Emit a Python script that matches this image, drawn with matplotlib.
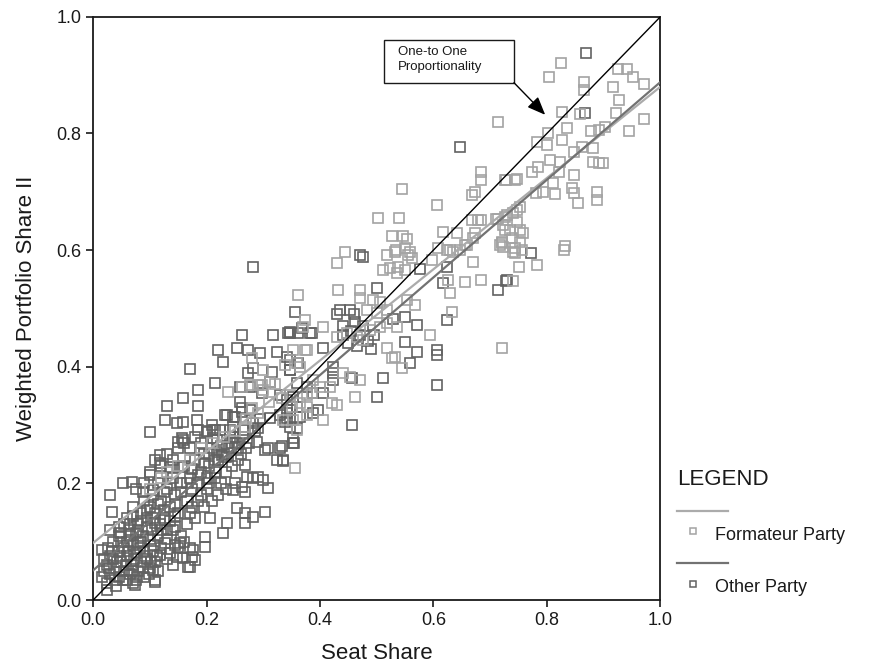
import matplotlib
matplotlib.use('Agg')
import matplotlib.pyplot as plt
from matplotlib.lines import Line2D
from matplotlib.patches import Rectangle
import numpy as np

plt.rcParams['font.family'] = ['Liberation Sans', 'DejaVu Sans']

# formateur party (light squares)
form_x = [0.825, 0.804, 0.926, 0.942, 0.952, 0.972, 0.917, 0.866, 0.866, 0.928,
          0.972, 0.945, 0.921, 0.859, 0.827, 0.714, 0.836, 0.802, 0.783, 0.801,
          0.827, 0.877, 0.891, 0.903, 0.862, 0.882, 0.882, 0.891, 0.899, 0.847,
          0.806, 0.824, 0.774, 0.785, 0.822, 0.727, 0.748, 0.847, 0.810, 0.794,
          0.780, 0.815, 0.845, 0.847, 0.889, 0.889, 0.855, 0.753, 0.741, 0.727,
          0.713, 0.683, 0.748, 0.727, 0.735, 0.753, 0.758, 0.721, 0.723, 0.753,
          0.741, 0.757, 0.832, 0.743, 0.750, 0.783, 0.741, 0.721, 0.831,
          0.684, 0.684, 0.728, 0.744, 0.545, 0.674, 0.668, 0.607, 0.503, 0.540,
          0.668, 0.679, 0.711, 0.527, 0.547, 0.554, 0.616, 0.642, 0.674, 0.670,
          0.730, 0.748, 0.723, 0.534, 0.550, 0.559, 0.519, 0.608, 0.630, 0.647,
          0.660, 0.721, 0.739, 0.744,
          0.444, 0.533, 0.556, 0.563, 0.430, 0.511, 0.524, 0.538, 0.550, 0.536,
          0.598, 0.624, 0.635, 0.656, 0.670, 0.683, 0.656, 0.626, 0.630, 0.718,
          0.633, 0.594, 0.568, 0.554, 0.471, 0.432, 0.362, 0.471, 0.494, 0.506,
          0.483, 0.501, 0.519, 0.374, 0.370, 0.406, 0.430, 0.448, 0.466, 0.476,
          0.489, 0.506, 0.519, 0.536, 0.519, 0.533, 0.527, 0.545, 0.353, 0.377,
          0.360, 0.365, 0.441, 0.453, 0.471, 0.388, 0.400, 0.418, 0.377, 0.386,
          0.351, 0.365, 0.377, 0.422, 0.430, 0.335, 0.353, 0.377, 0.406, 0.360,
          0.356, 0.462,
          0.280, 0.374, 0.300, 0.238, 0.298, 0.339, 0.268, 0.333, 0.347, 0.263,
          0.277, 0.312, 0.291,
          0.120, 0.150, 0.170, 0.190, 0.210, 0.230, 0.250, 0.270, 0.290, 0.310,
          0.100, 0.130, 0.280, 0.300, 0.320]
form_y = [0.921, 0.897, 0.911, 0.911, 0.897, 0.885, 0.880, 0.888, 0.875, 0.858,
          0.825, 0.804, 0.835, 0.834, 0.837, 0.820, 0.810, 0.801, 0.786, 0.780,
          0.789, 0.804, 0.806, 0.811, 0.777, 0.775, 0.751, 0.750, 0.750, 0.768,
          0.755, 0.751, 0.734, 0.743, 0.734, 0.720, 0.722, 0.729, 0.715, 0.700,
          0.698, 0.696, 0.707, 0.698, 0.700, 0.686, 0.681, 0.674, 0.664, 0.657,
          0.654, 0.652, 0.648, 0.635, 0.635, 0.635, 0.629, 0.614, 0.605, 0.614,
          0.597, 0.600, 0.607, 0.595, 0.571, 0.575, 0.547, 0.432, 0.600,
          0.734, 0.720, 0.720, 0.720, 0.705, 0.700, 0.695, 0.678, 0.655, 0.655,
          0.652, 0.652, 0.654, 0.624, 0.624, 0.619, 0.631, 0.629, 0.629, 0.621,
          0.660, 0.669, 0.643, 0.600, 0.604, 0.597, 0.592, 0.604, 0.600, 0.600,
          0.609, 0.612, 0.621, 0.604,
          0.597, 0.597, 0.592, 0.587, 0.578, 0.566, 0.569, 0.571, 0.566, 0.561,
          0.583, 0.600, 0.597, 0.609, 0.580, 0.549, 0.545, 0.549, 0.527, 0.609,
          0.494, 0.455, 0.506, 0.515, 0.532, 0.532, 0.523, 0.518, 0.515, 0.511,
          0.497, 0.492, 0.497, 0.480, 0.468, 0.468, 0.451, 0.458, 0.451, 0.446,
          0.463, 0.468, 0.475, 0.468, 0.432, 0.417, 0.415, 0.398, 0.429, 0.429,
          0.407, 0.400, 0.389, 0.383, 0.377, 0.377, 0.365, 0.365, 0.352, 0.355,
          0.331, 0.338, 0.331, 0.338, 0.334, 0.309, 0.309, 0.317, 0.309, 0.292,
          0.226, 0.348,
          0.415, 0.429, 0.395, 0.357, 0.369, 0.403, 0.297, 0.346, 0.352, 0.365,
          0.369, 0.374, 0.369,
          0.210, 0.230, 0.240, 0.260, 0.270, 0.280, 0.290, 0.310, 0.320, 0.340,
          0.190, 0.220, 0.330, 0.360, 0.370]

# other party (dark squares)
other_x = [0.869, 0.868, 0.647, 0.772, 0.728, 0.713, 0.730, 0.616, 0.624, 0.577,
           0.476, 0.471, 0.282, 0.624, 0.571, 0.550, 0.529, 0.501, 0.436, 0.453,
           0.356, 0.386, 0.347, 0.462, 0.550, 0.571, 0.607, 0.607, 0.559, 0.511,
           0.607, 0.501, 0.457, 0.457, 0.342, 0.406, 0.423, 0.423, 0.423, 0.406,
           0.397, 0.353, 0.333, 0.354, 0.335,
           0.440, 0.455, 0.470, 0.485, 0.450, 0.465, 0.490, 0.440, 0.475, 0.495,
           0.430, 0.460,
           0.344, 0.369, 0.383, 0.347, 0.360, 0.377, 0.388, 0.353, 0.342, 0.365,
           0.388, 0.339, 0.347,
           0.263, 0.317, 0.347, 0.362, 0.220, 0.254, 0.273, 0.295, 0.325, 0.347,
           0.362, 0.171, 0.229, 0.282, 0.273, 0.316, 0.347, 0.312, 0.215, 0.259,
           0.277, 0.298, 0.159, 0.185, 0.185, 0.259, 0.263, 0.277, 0.330, 0.342,
           0.347, 0.360, 0.233, 0.247, 0.295, 0.312, 0.330, 0.342, 0.159, 0.183,
           0.360, 0.185, 0.201, 0.212, 0.247, 0.265, 0.219, 0.242, 0.254, 0.159,
           0.330, 0.353, 0.309,
           0.131, 0.263, 0.236, 0.250, 0.127, 0.148, 0.101, 0.215, 0.224, 0.212,
           0.150, 0.157, 0.242, 0.282, 0.291, 0.247, 0.289, 0.303, 0.335, 0.325,
           0.118, 0.118, 0.219, 0.228, 0.268, 0.136, 0.157, 0.053, 0.069, 0.101,
           0.030, 0.034, 0.088, 0.106, 0.263, 0.272, 0.282, 0.291, 0.300, 0.309,
           0.247, 0.268, 0.254, 0.268, 0.282, 0.303, 0.236, 0.229, 0.268, 0.198,
           0.016, 0.030, 0.153, 0.171, 0.118, 0.136, 0.148, 0.175, 0.171, 0.109,
           0.071, 0.025,
           0.206, 0.198, 0.176, 0.180, 0.159, 0.168, 0.106, 0.109, 0.074, 0.127,
           0.145, 0.109, 0.026,
           0.020, 0.025, 0.030, 0.035, 0.040, 0.045, 0.050, 0.055, 0.060, 0.065,
           0.070, 0.075, 0.080, 0.085, 0.090, 0.095, 0.100, 0.105, 0.110, 0.115,
           0.030, 0.045, 0.060, 0.075, 0.120, 0.130, 0.140, 0.025, 0.040, 0.055,
           0.070, 0.085, 0.100, 0.115, 0.130, 0.090, 0.065, 0.050, 0.080, 0.095,
           0.060, 0.070, 0.080, 0.085, 0.090, 0.095, 0.100, 0.105, 0.110, 0.115,
           0.120, 0.125, 0.130, 0.135, 0.140, 0.145, 0.150, 0.155, 0.160, 0.165,
           0.170, 0.175, 0.180, 0.185, 0.190, 0.195, 0.200, 0.205, 0.210, 0.215,
           0.220, 0.225, 0.230, 0.235, 0.240, 0.245, 0.250, 0.255, 0.260, 0.270,
           0.075, 0.090, 0.100, 0.110, 0.120, 0.130, 0.140, 0.150, 0.160, 0.170,
           0.180, 0.190, 0.200, 0.210, 0.165, 0.180, 0.195, 0.210, 0.220, 0.170,
           0.140, 0.155, 0.120, 0.080, 0.065, 0.055, 0.045, 0.235, 0.250, 0.200,
           0.185, 0.150, 0.160,
           0.015, 0.020, 0.028, 0.033, 0.038, 0.042, 0.048, 0.052, 0.058, 0.062,
           0.068, 0.072, 0.078, 0.082, 0.088, 0.092, 0.098, 0.102, 0.108, 0.112,
           0.035, 0.050, 0.065, 0.070, 0.085, 0.095, 0.105, 0.115, 0.125, 0.135,
           0.145, 0.155, 0.165, 0.175, 0.185, 0.195, 0.205, 0.215, 0.225, 0.235,
           0.245, 0.255, 0.265, 0.275, 0.285, 0.125, 0.135, 0.145, 0.175, 0.190,
           0.205, 0.215, 0.060, 0.045, 0.075, 0.088, 0.103, 0.118, 0.130, 0.145]
other_y = [0.938, 0.835, 0.777, 0.595, 0.547, 0.532, 0.549, 0.544, 0.571, 0.568,
           0.588, 0.592, 0.571, 0.480, 0.472, 0.485, 0.482, 0.535, 0.497, 0.497,
           0.494, 0.458, 0.460, 0.477, 0.443, 0.425, 0.429, 0.420, 0.407, 0.381,
           0.369, 0.348, 0.300, 0.381, 0.417, 0.432, 0.400, 0.389, 0.377, 0.355,
           0.326, 0.278, 0.264, 0.269, 0.238,
           0.470, 0.462, 0.455, 0.445, 0.440, 0.435, 0.430, 0.455, 0.470, 0.455,
           0.490, 0.490,
           0.458, 0.467, 0.458, 0.395, 0.372, 0.365, 0.355, 0.348, 0.321, 0.314,
           0.321, 0.305, 0.297,
           0.455, 0.455, 0.458, 0.458, 0.429, 0.432, 0.429, 0.424, 0.425, 0.412,
           0.407, 0.396, 0.408, 0.398, 0.389, 0.391, 0.395, 0.374, 0.372, 0.365,
           0.365, 0.355, 0.346, 0.360, 0.333, 0.340, 0.329, 0.326, 0.352, 0.343,
           0.326, 0.331, 0.317, 0.314, 0.310, 0.312, 0.317, 0.312, 0.305, 0.309,
           0.295, 0.292, 0.288, 0.292, 0.297, 0.292, 0.274, 0.280, 0.269, 0.274,
           0.261, 0.269, 0.261,
           0.333, 0.322, 0.317, 0.314, 0.309, 0.304, 0.288, 0.292, 0.292, 0.278,
           0.271, 0.278, 0.292, 0.304, 0.295, 0.280, 0.271, 0.257, 0.240, 0.240,
           0.249, 0.235, 0.254, 0.249, 0.232, 0.228, 0.228, 0.201, 0.202, 0.214,
           0.180, 0.151, 0.185, 0.189, 0.194, 0.211, 0.209, 0.211, 0.206, 0.192,
           0.189, 0.185, 0.158, 0.149, 0.142, 0.151, 0.132, 0.115, 0.132, 0.108,
           0.086, 0.120, 0.098, 0.089, 0.077, 0.081, 0.074, 0.074, 0.057, 0.031,
           0.029, 0.017,
           0.141, 0.091, 0.086, 0.069, 0.072, 0.057, 0.051, 0.034, 0.026, 0.098,
           0.094, 0.132, 0.089,
           0.050, 0.060, 0.045, 0.070, 0.055, 0.040, 0.065, 0.050, 0.075, 0.045,
           0.060, 0.080, 0.050, 0.065, 0.040, 0.070, 0.055, 0.085, 0.065, 0.050,
           0.075, 0.085, 0.035, 0.035, 0.090, 0.070, 0.060, 0.030, 0.025, 0.090,
           0.095, 0.100, 0.105, 0.110, 0.120, 0.085, 0.110, 0.100, 0.120, 0.125,
           0.140, 0.160, 0.130, 0.150, 0.170, 0.140, 0.160, 0.180, 0.150, 0.200,
           0.170, 0.140, 0.190, 0.160, 0.210, 0.180, 0.150, 0.200, 0.230, 0.170,
           0.210, 0.190, 0.240, 0.200, 0.220, 0.250, 0.210, 0.230, 0.260, 0.220,
           0.240, 0.200, 0.250, 0.220, 0.260, 0.230, 0.270, 0.240, 0.250, 0.260,
           0.190, 0.200, 0.220, 0.240, 0.230, 0.250, 0.240, 0.260, 0.270, 0.260,
           0.280, 0.270, 0.290, 0.300, 0.130, 0.140, 0.160, 0.170, 0.180, 0.150,
           0.120, 0.110, 0.120, 0.100, 0.120, 0.130, 0.110, 0.190, 0.200, 0.190,
           0.170, 0.090, 0.100,
           0.040, 0.070, 0.055, 0.085, 0.035, 0.065, 0.075, 0.035, 0.060, 0.085,
           0.050, 0.070, 0.040, 0.090, 0.055, 0.075, 0.045, 0.065, 0.095, 0.075,
           0.100, 0.115, 0.130, 0.145, 0.135, 0.155, 0.140, 0.165, 0.185, 0.200,
           0.165, 0.185, 0.200, 0.225, 0.215, 0.235, 0.250, 0.240, 0.265, 0.245,
           0.270, 0.260, 0.280, 0.270, 0.290, 0.155, 0.135, 0.145, 0.160, 0.180,
           0.200, 0.210, 0.100, 0.125, 0.115, 0.110, 0.120, 0.130, 0.105, 0.125]

# fitted lines (intercept, slope)
form_fit = [0.098, 0.782]
other_fit = [0.051, 0.837]

light = '#a3a3a3'
dark = '#626262'
ink = '#1a1a1a'

fig = plt.figure(figsize=(8.7, 6.72), dpi=100)
ax = fig.add_axes([0.107, 0.107, 0.652, 0.868])

ax.plot(other_x, other_y, 's', ms=6.5, mfc='none', mec=dark, mew=1.2, zorder=2)
ax.plot(form_x, form_y, 's', ms=6.5, mfc='none', mec=light, mew=1.2, zorder=2)

xs = np.array([0.0, 1.0])
ax.plot(xs, xs, color='black', lw=1.0, zorder=4)
ax.plot(xs, form_fit[0] + form_fit[1] * xs, color='#ababab', lw=1.6, zorder=3)
ax.plot(xs, other_fit[0] + other_fit[1] * xs, color='#727272', lw=1.6, zorder=3)

ax.set_xlim(0, 1)
ax.set_ylim(0, 1)
ax.set_xticks([0, 0.2, 0.4, 0.6, 0.8, 1.0])
ax.set_yticks([0, 0.2, 0.4, 0.6, 0.8, 1.0])
ax.set_xticklabels(['0.0', '0.2', '0.4', '0.6', '0.8', '1.0'])
ax.set_yticklabels(['0.0', '0.2', '0.4', '0.6', '0.8', '1.0'])
ax.tick_params(direction='out', length=5, width=1.2, labelsize=13, colors=ink)
for s in ax.spines.values():
    s.set_linewidth(1.3)
    s.set_color(ink)

ax.set_xlabel('Seat Share', fontsize=16, labelpad=10, color=ink)
ax.set_ylabel('Weighted Portfolio Share II', fontsize=16, labelpad=14, color=ink)

# annotation box + arrow
ax.add_patch(Rectangle((0.513, 0.887), 0.229, 0.074, fc='white', ec=ink, lw=1.0, zorder=5))
ax.text(0.537, 0.927, 'One-to One\nProportionality', fontsize=9.5, ha='left', va='center',
        color=ink, linespacing=1.25, zorder=6)
ax.annotate('', xy=(0.797, 0.832), xytext=(0.742, 0.887),
            arrowprops=dict(arrowstyle='-|>,head_length=1.1,head_width=0.45',
                            color='black', lw=1.0, shrinkA=0, shrinkB=0),
            zorder=6)

# custom legend on the right
fig.text(0.778, 0.286, 'LEGEND', fontsize=16, va='center', ha='left', color=ink)
fig.add_artist(Line2D([0.778, 0.837], [0.240, 0.240], color='#ababab', lw=1.6))
fig.add_artist(Line2D([0.797], [0.210], marker='s', ms=5, mfc='none', mec=light, mew=1.1))
fig.text(0.822, 0.203, 'Formateur Party', fontsize=13, va='center', ha='left', color=ink)
fig.add_artist(Line2D([0.778, 0.837], [0.162, 0.162], color='#727272', lw=1.6))
fig.add_artist(Line2D([0.797], [0.131], marker='s', ms=5, mfc='none', mec=dark, mew=1.1))
fig.text(0.822, 0.125, 'Other Party', fontsize=13, va='center', ha='left', color=ink)

fig.savefig('out.png', dpi=100)
